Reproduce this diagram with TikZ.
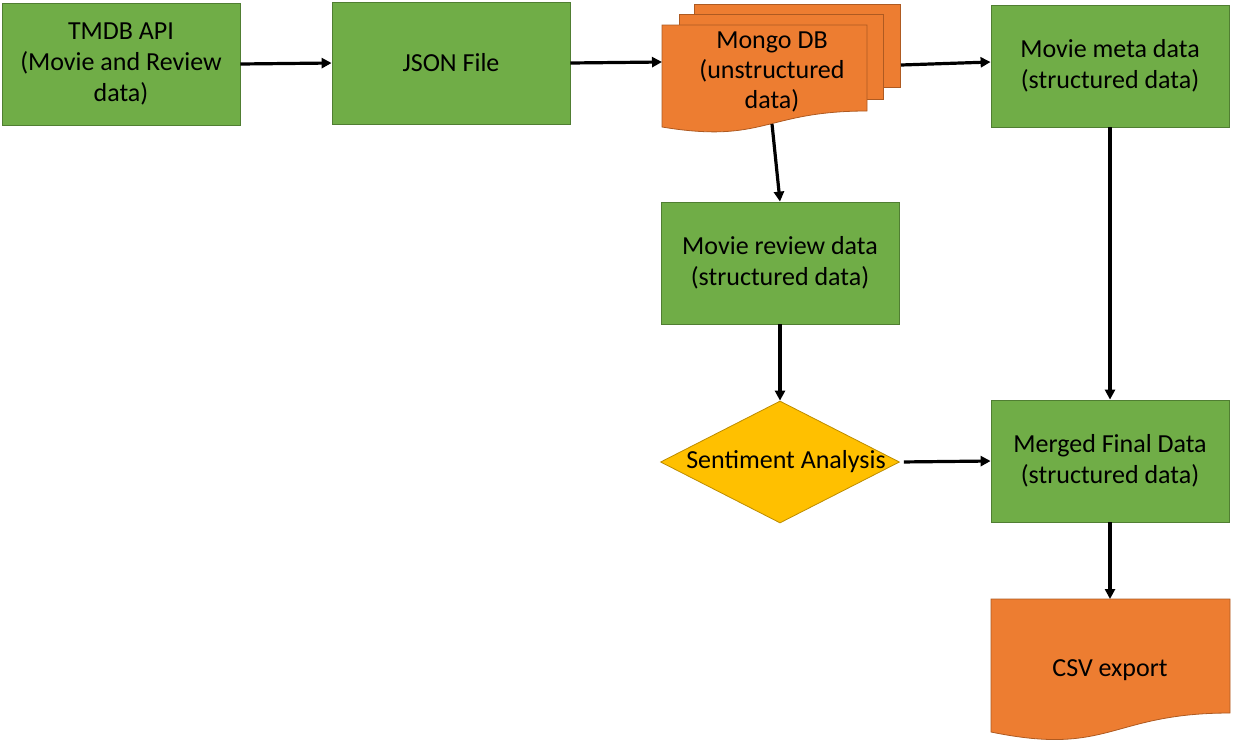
\documentclass[tikz,border=0pt]{standalone}
\usepackage{fontspec}
\setmainfont{Carlito}
\usetikzlibrary{arrows.meta,shapes.geometric,positioning,calc}
\definecolor{boxgreen}{RGB}{112,173,71}
\definecolor{boxgreenline}{RGB}{80,126,50}
\definecolor{docorange}{RGB}{237,125,49}
\definecolor{docorangeline}{RGB}{174,90,33}
\definecolor{decyellow}{RGB}{255,192,0}
\definecolor{decyellowline}{RGB}{188,140,0}
\begin{document}
\begin{tikzpicture}[x=1pt, y=-1pt,
    procbox/.style={draw=boxgreenline, fill=boxgreen, line width=0.8pt, minimum width=238pt, minimum height=122pt, inner sep=0pt, align=center, font=\fontsize{26}{31}\selectfont},
    doctext/.style={inner sep=0pt, align=center, font=\fontsize{26}{30}\selectfont},
    docsheet/.style={draw=docorangeline, fill=docorange, line width=0.8pt},
    decision/.style={diamond, draw=decyellowline, fill=decyellow, line width=0.8pt, minimum width=239pt, minimum height=122pt, inner sep=0pt},
    flow/.style={-{Triangle[length=10pt,width=10pt]}, line width=3.2pt}]
    \useasboundingbox (0,0) rectangle (1233,742);

    % Process boxes
    \node[procbox] (tmdb) at (121,64) {TMDB API\\(Movie and Review\\data)};
    \node[procbox] (json) at (451,63) {JSON File};
    \node[procbox] (meta) at (1110,66) {Movie meta data\\(structured data)};
    \node[procbox] (review) at (780,263) {Movie review data\\(structured data)};
    \node[procbox] (merged) at (1110,461) {Merged Final Data\\(structured data)};

    % Decision
    \node[decision, label={[font=\fontsize{26}{31}\selectfont, xshift=6pt]center:Sentiment Analysis}] (sentiment) at (780,462) {};

    % Mongo DB (multi document)
    \draw[docsheet] (694,4) rectangle (900,87);
    \draw[docsheet] (679,14) rectangle (883,99);
    \draw[docsheet] (662,25) -- (867,25) -- (867,111)
        .. controls (764.5,111) and (764.5,144) .. (662,127) -- cycle;
    \node[doctext] (mongo) at (772,72) {Mongo DB\\(unstructured\\data)};
    \coordinate (mongoin) at (662,62);
    \coordinate (mongoout) at (901,65);
    \coordinate (mongodown) at (772,124);

    % CSV export (document)
    \draw[docsheet] (991,599) -- (1230,599) -- (1230,713)
        .. controls (1110,713) and (1110,756.6) .. (991,732) -- cycle;
    \node[doctext] (csv) at (1110,670) {CSV export};
    \coordinate (csvin) at (1110,599);

    % Connectors
    \draw[flow] (tmdb.east) -- (json.west);
    \draw[flow] (json.east) -- (mongoin);
    \draw[flow] (mongoout) -- ([yshift=4pt]meta.west);
    \draw[flow] (mongodown) -- (review.north);
    \draw[flow] (review.south) -- (sentiment.north);
    \draw[flow] (meta.south) -- (merged.north);
    \draw[flow, shorten <=4pt] (sentiment.east) -- (merged.west);
    \draw[flow] (merged.south) -- (csvin);
\end{tikzpicture}
\end{document}
